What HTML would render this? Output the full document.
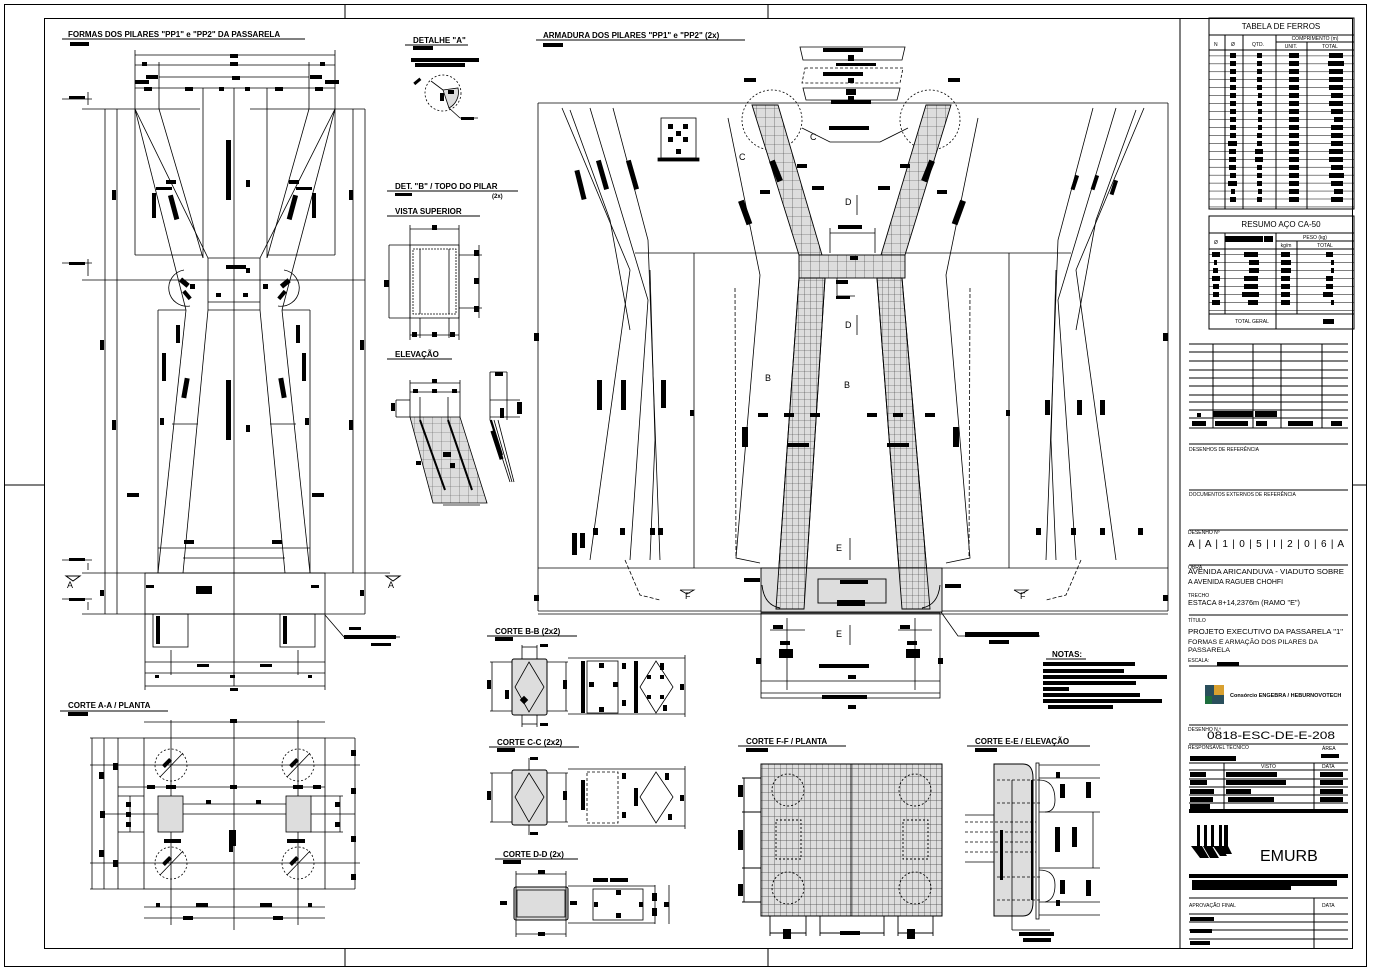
<!DOCTYPE html>
<html><head><meta charset="utf-8"><style>
html,body{margin:0;padding:0;background:#fff;}
svg{display:block;font-family:"Liberation Sans",sans-serif;}
.t{font-size:8px;font-weight:bold;}
.s{font-size:5px;}
</style></head><body>
<svg width="1378" height="974" viewBox="0 0 1378 974" xmlns="http://www.w3.org/2000/svg">
<defs>
<pattern id="grid" width="9" height="9" patternUnits="userSpaceOnUse"><path d="M0 0H9M0 0V9" stroke="#000" stroke-width="0.6" fill="none"/></pattern>
<pattern id="gridF" width="6" height="7" patternUnits="userSpaceOnUse"><path d="M0 0H6M0 0V7" stroke="#000" stroke-width="0.6" fill="none"/></pattern>
<pattern id="gridFF" width="6" height="8" patternUnits="userSpaceOnUse"><path d="M0 0H6M0 0V8" stroke="#000" stroke-width="0.7" fill="none"/></pattern>
<pattern id="rows" width="10" height="7.95" patternUnits="userSpaceOnUse"><path d="M0 0H10" stroke="#000" stroke-width="1"/></pattern>
</defs>
<rect width="1378" height="974" fill="#fff"/>
<g fill="none" stroke="#000" stroke-width="1">
<rect x="4.5" y="4.5" width="1362" height="962"/>
<rect x="44.5" y="18.5" width="1308" height="930"/>
<line x1="345" y1="4" x2="345" y2="18"/><line x1="768" y1="4" x2="768" y2="18"/>
<line x1="4" y1="485" x2="44" y2="485"/><line x1="1352" y1="485" x2="1367" y2="485"/>
<line x1="345" y1="948" x2="345" y2="967"/><line x1="768" y1="948" x2="768" y2="967"/>
<line x1="1180" y1="18" x2="1180" y2="948"/>
</g>

<!-- TABELA DE FERROS -->
<g fill="none" stroke="#000" stroke-width="1">
<rect x="1209" y="18" width="145" height="191"/>
<line x1="1209" y1="35" x2="1354" y2="35"/>
<line x1="1276" y1="42" x2="1354" y2="42"/>
<line x1="1209" y1="50" x2="1354" y2="50"/>
<line x1="1225" y1="35" x2="1225" y2="209"/><line x1="1243" y1="35" x2="1243" y2="209"/>
<line x1="1276" y1="35" x2="1276" y2="209"/><line x1="1307" y1="42" x2="1307" y2="209"/>
</g>
<rect x="1209" y="50" width="145" height="159" fill="url(#rows)"/>
<text x="1281" y="29" font-size="8" text-anchor="middle">TABELA  DE  FERROS</text>
<text x="1214" y="46" class="s">N</text><text x="1231" y="46" class="s">Ø</text><text x="1252" y="46" class="s">QTD.</text>
<text x="1315" y="40" class="s" text-anchor="middle">COMPRIMENTO (m)</text>
<text x="1291" y="48" class="s" text-anchor="middle">UNIT.</text><text x="1330" y="48" class="s" text-anchor="middle">TOTAL</text>
<g fill="#000">
<rect x="1230" y="53" width="6" height="5"/><rect x="1230" y="61" width="6" height="5"/><rect x="1230" y="69" width="6" height="5"/><rect x="1230" y="77" width="6" height="5"/><rect x="1230" y="85" width="6" height="5"/><rect x="1230" y="93" width="6" height="5"/><rect x="1230" y="101" width="6" height="5"/><rect x="1230" y="109" width="6" height="5"/><rect x="1230" y="117" width="6" height="5"/><rect x="1230" y="125" width="6" height="5"/><rect x="1230" y="133" width="6" height="5"/><rect x="1228" y="141" width="9" height="5"/><rect x="1229" y="149" width="7" height="5"/><rect x="1229" y="157" width="7" height="5"/><rect x="1229" y="165" width="7" height="5"/><rect x="1230" y="173" width="6" height="5"/><rect x="1228" y="181" width="9" height="5"/><rect x="1231" y="189" width="4" height="5"/><rect x="1230" y="197" width="6" height="5"/>
<rect x="1257" y="53" width="5" height="5"/><rect x="1257" y="61" width="5" height="5"/><rect x="1257" y="69" width="5" height="5"/><rect x="1257" y="77" width="5" height="5"/><rect x="1257" y="85" width="5" height="5"/><rect x="1258" y="93" width="4" height="5"/><rect x="1257" y="101" width="5" height="5"/><rect x="1258" y="109" width="4" height="5"/><rect x="1258" y="117" width="4" height="5"/><rect x="1258" y="125" width="4" height="5"/><rect x="1257" y="133" width="5" height="5"/><rect x="1257" y="141" width="5" height="5"/><rect x="1255" y="149" width="8" height="5"/><rect x="1255" y="157" width="8" height="5"/><rect x="1257" y="165" width="5" height="5"/><rect x="1257" y="173" width="5" height="5"/><rect x="1257" y="181" width="5" height="5"/><rect x="1258" y="189" width="4" height="5"/><rect x="1257" y="197" width="5" height="5"/>
<rect x="1289" y="53" width="10" height="5"/><rect x="1289" y="61" width="10" height="5"/><rect x="1289" y="69" width="10" height="5"/><rect x="1289" y="77" width="10" height="5"/><rect x="1289" y="85" width="10" height="5"/><rect x="1289" y="93" width="10" height="5"/><rect x="1289" y="101" width="10" height="5"/><rect x="1289" y="109" width="10" height="5"/><rect x="1289" y="117" width="10" height="5"/><rect x="1289" y="125" width="10" height="5"/><rect x="1289" y="133" width="10" height="5"/><rect x="1289" y="141" width="10" height="5"/><rect x="1289" y="149" width="10" height="5"/><rect x="1289" y="157" width="10" height="5"/><rect x="1289" y="165" width="10" height="5"/><rect x="1289" y="173" width="10" height="5"/><rect x="1289" y="181" width="10" height="5"/><rect x="1289" y="189" width="10" height="5"/><rect x="1289" y="197" width="10" height="5"/>
<rect x="1329" y="53" width="14" height="5"/><rect x="1328" y="61" width="16" height="5"/><rect x="1329" y="69" width="14" height="5"/><rect x="1329" y="77" width="14" height="5"/><rect x="1329" y="85" width="14" height="5"/><rect x="1331" y="93" width="12" height="5"/><rect x="1329" y="101" width="14" height="5"/><rect x="1331" y="109" width="12" height="5"/><rect x="1334" y="117" width="9" height="5"/><rect x="1331" y="125" width="12" height="5"/><rect x="1331" y="133" width="12" height="5"/><rect x="1331" y="141" width="12" height="5"/><rect x="1329" y="149" width="14" height="5"/><rect x="1329" y="157" width="14" height="5"/><rect x="1331" y="165" width="12" height="5"/><rect x="1329" y="173" width="15" height="5"/><rect x="1331" y="181" width="12" height="5"/><rect x="1334" y="189" width="9" height="5"/><rect x="1331" y="197" width="12" height="5"/>
</g>
<!-- RESUMO -->
<g fill="none" stroke="#000" stroke-width="1">
<rect x="1209" y="216" width="145" height="113"/>
<line x1="1209" y1="233" x2="1354" y2="233"/>
<line x1="1276" y1="241" x2="1354" y2="241"/>
<line x1="1209" y1="249" x2="1354" y2="249"/>
<line x1="1209" y1="314" x2="1354" y2="314"/>
<line x1="1225" y1="233" x2="1225" y2="314"/><line x1="1276" y1="233" x2="1276" y2="329"/><line x1="1297" y1="241" x2="1297" y2="314"/>
</g>
<rect x="1209" y="249" width="145" height="65" fill="url(#rows)"/>
<text x="1281" y="227" font-size="8" text-anchor="middle">RESUMO AÇO CA-50</text>
<text x="1214" y="244" class="s">Ø</text>
<text x="1315" y="239" class="s" text-anchor="middle">PESO (kg)</text>
<text x="1286" y="247" class="s" text-anchor="middle">kg/m</text><text x="1325" y="247" class="s" text-anchor="middle">TOTAL</text>
<text x="1252" y="323" class="s" text-anchor="middle">TOTAL GERAL</text>
<g fill="#000"><rect x="1225" y="236" width="38" height="6"/><rect x="1264" y="236" width="9" height="6"/>
<rect x="1212" y="252" width="8" height="5"/><rect x="1244" y="252" width="14" height="5"/><rect x="1281" y="252" width="9" height="5"/><rect x="1326" y="252" width="7" height="5"/>
<rect x="1214" y="260" width="3" height="5"/><rect x="1249" y="260" width="10" height="5"/><rect x="1281" y="260" width="10" height="5"/><rect x="1331" y="260" width="3" height="5"/>
<rect x="1213" y="268" width="5" height="5"/><rect x="1249" y="268" width="10" height="5"/><rect x="1281" y="268" width="10" height="5"/><rect x="1331" y="268" width="3" height="5"/>
<rect x="1212" y="276" width="8" height="5"/><rect x="1244" y="276" width="14" height="5"/><rect x="1281" y="276" width="9" height="5"/><rect x="1326" y="276" width="7" height="5"/>
<rect x="1213" y="284" width="6" height="5"/><rect x="1244" y="284" width="14" height="5"/><rect x="1281" y="284" width="9" height="5"/><rect x="1326" y="284" width="7" height="5"/>
<rect x="1213" y="292" width="6" height="5"/><rect x="1242" y="292" width="17" height="5"/><rect x="1281" y="292" width="9" height="5"/><rect x="1323" y="292" width="10" height="5"/>
<rect x="1212" y="300" width="8" height="5"/><rect x="1248" y="300" width="10" height="5"/><rect x="1281" y="300" width="9" height="5"/><rect x="1331" y="300" width="3" height="5"/>
<rect x="1323" y="319" width="11" height="5"/></g>

<!-- revision table & title block -->
<g fill="none" stroke="#000" stroke-width="1">
<line x1="1189" y1="344" x2="1348" y2="344"/><line x1="1189" y1="352" x2="1348" y2="352"/><line x1="1189" y1="361" x2="1348" y2="361"/><line x1="1189" y1="370" x2="1348" y2="370"/><line x1="1189" y1="378" x2="1348" y2="378"/><line x1="1189" y1="386" x2="1348" y2="386"/><line x1="1189" y1="395" x2="1348" y2="395"/><line x1="1189" y1="402" x2="1348" y2="402"/><line x1="1189" y1="410" x2="1348" y2="410"/><line x1="1189" y1="418" x2="1348" y2="418"/><line x1="1189" y1="428" x2="1348" y2="428"/>
<line x1="1213" y1="344" x2="1213" y2="428"/><line x1="1253" y1="344" x2="1253" y2="428"/><line x1="1281" y1="344" x2="1281" y2="428"/><line x1="1322" y1="344" x2="1322" y2="428"/>
<line x1="1189" y1="444" x2="1348" y2="444"/><line x1="1189" y1="490" x2="1348" y2="490"/><line x1="1189" y1="530" x2="1348" y2="530"/>
<line x1="1189" y1="565" x2="1348" y2="565"/><line x1="1189" y1="615" x2="1348" y2="615"/><line x1="1189" y1="666" x2="1348" y2="666"/><line x1="1189" y1="725" x2="1348" y2="725"/>
<line x1="1189" y1="744" x2="1348" y2="744"/><line x1="1189" y1="763" x2="1348" y2="763"/><line x1="1189" y1="770" x2="1348" y2="770"/><line x1="1189" y1="779" x2="1348" y2="779"/><line x1="1189" y1="787" x2="1348" y2="787"/><line x1="1189" y1="795" x2="1348" y2="795"/><line x1="1189" y1="803" x2="1348" y2="803"/>
<line x1="1224" y1="763" x2="1224" y2="811"/><line x1="1314" y1="763" x2="1314" y2="811"/>
<line x1="1189" y1="898" x2="1348" y2="898"/><line x1="1189" y1="914" x2="1348" y2="914"/><line x1="1189" y1="922" x2="1348" y2="922"/><line x1="1189" y1="930" x2="1348" y2="930"/><line x1="1189" y1="939" x2="1348" y2="939"/>
<line x1="1314" y1="898" x2="1314" y2="948"/>
</g>
<g fill="#000"><rect x="1197" y="413" width="4" height="4"/><rect x="1213" y="411" width="40" height="6"/><rect x="1255" y="411" width="22" height="6"/>
<rect x="1192" y="421" width="14" height="5"/><rect x="1215" y="421" width="33" height="5"/><rect x="1256" y="421" width="11" height="5"/><rect x="1288" y="421" width="25" height="5"/><rect x="1331" y="421" width="11" height="5"/>
<rect x="1189" y="809" width="159" height="4"/><rect x="1189" y="874" width="159" height="4"/><rect x="1192" y="880" width="145" height="6"/><rect x="1192" y="886" width="99" height="4"/>
<rect x="1190" y="756" width="46" height="5"/><rect x="1321" y="754" width="18" height="4"/>
<rect x="1190" y="772" width="16" height="5"/><rect x="1226" y="772" width="51" height="5"/><rect x="1320" y="772" width="23" height="5"/>
<rect x="1190" y="780" width="17" height="5"/><rect x="1226" y="780" width="60" height="5"/><rect x="1320" y="780" width="23" height="5"/>
<rect x="1190" y="789" width="24" height="5"/><rect x="1226" y="789" width="25" height="5"/><rect x="1320" y="789" width="23" height="5"/>
<rect x="1190" y="797" width="23" height="5"/><rect x="1228" y="797" width="46" height="5"/><rect x="1320" y="797" width="23" height="5"/>
<rect x="1190" y="804" width="20" height="5"/>
<rect x="1190" y="917" width="24" height="4"/><rect x="1190" y="929" width="22" height="4"/><rect x="1190" y="941" width="20" height="4"/>
<rect x="1217" y="662" width="22" height="4"/></g>
<g font-size="5" fill="#000">
<text x="1189" y="451">DESENHOS  DE  REFERÊNCIA</text>
<text x="1189" y="496">DOCUMENTOS  EXTERNOS  DE  REFERÊNCIA</text>
<text x="1188" y="534">DESENHO  Nº</text>
<text x="1188" y="569">OBRA</text>
<text x="1188" y="597">TRECHO</text>
<text x="1188" y="622">TÍTULO</text>
<text x="1188" y="662">ESCALA:</text>
<text x="1188" y="731">DESENHO  N.º</text>
<text x="1188" y="749">RESPONSÁVEL  TÉCNICO</text>
<text x="1322" y="750">ÁREA</text>
<text x="1261" y="768">VISTO</text><text x="1322" y="768">DATA</text>
<text x="1189" y="907">APROVAÇÃO  FINAL</text><text x="1322" y="907">DATA</text>
</g>
<g fill="#000">
<text x="1188" y="547" font-size="10" textLength="156" lengthAdjust="spacing">A | A | 1 | 0 | 5 | I | 2 | 0 | 6 | A</text>
<text x="1188" y="574" font-size="7" textLength="156" lengthAdjust="spacingAndGlyphs">AVENIDA ARICANDUVA - VIADUTO SOBRE</text>
<text x="1188" y="584" font-size="7" textLength="95" lengthAdjust="spacingAndGlyphs">A AVENIDA RAGUEB CHOHFI</text>
<text x="1188" y="605" font-size="7" textLength="112" lengthAdjust="spacingAndGlyphs">ESTACA 8+14,2376m (RAMO "E")</text>
<text x="1188" y="634" font-size="7" textLength="155" lengthAdjust="spacingAndGlyphs">PROJETO EXECUTIVO DA PASSARELA "1"</text>
<text x="1188" y="644" font-size="6" textLength="130" lengthAdjust="spacingAndGlyphs">FORMAS E ARMAÇÃO DOS PILARES DA</text>
<text x="1188" y="652" font-size="6" textLength="42" lengthAdjust="spacingAndGlyphs">PASSARELA</text>
<text x="1207" y="739" font-size="11" textLength="128" lengthAdjust="spacingAndGlyphs">0818-ESC-DE-E-208</text>
<text x="1260" y="861" font-size="16">EMURB</text>
</g>
<g><rect x="1205" y="685" width="19" height="19" fill="#2a4f5c"/><rect x="1214" y="685" width="10" height="10" fill="#d8a030"/><rect x="1205" y="696" width="7" height="8" fill="#1d6d3e"/>
<text x="1230" y="697" font-size="5.5" font-weight="bold">Consórcio ENGEBRA / HEBURNOVOTECH</text></g>
<g fill="#000"><rect x="1197" y="825" width="3" height="22"/><rect x="1204" y="825" width="3" height="22"/><rect x="1211" y="825" width="3" height="22"/><rect x="1219" y="825" width="3" height="22"/><rect x="1224" y="825" width="4" height="22"/>
<polygon points="1191,846 1202,846 1209,858 1200,858"/><polygon points="1203,846 1212,846 1219,858 1210,858"/><polygon points="1213,846 1221,846 1227,856 1220,856"/><polygon points="1221,846 1228,846 1232,854 1225,854"/></g>

<!-- ============ FORMAS (left) ============ -->
<text x="68" y="37" class="t">FORMAS DOS PILARES "PP1" e "PP2" DA PASSARELA</text>
<line x1="62" y1="39" x2="305" y2="39" stroke="#000"/><rect x="70" y="42" width="19" height="4"/>
<g fill="none" stroke="#000" stroke-width="0.8">
<line x1="135" y1="55" x2="335" y2="55"/><line x1="135" y1="65" x2="335" y2="65"/><line x1="159" y1="77" x2="309" y2="77"/><line x1="135" y1="88" x2="335" y2="88"/>
<line x1="135" y1="50" x2="135" y2="109"/><line x1="335" y1="50" x2="335" y2="109"/><line x1="159" y1="62" x2="159" y2="109"/><line x1="309" y1="62" x2="309" y2="109"/>
<line x1="82" y1="109" x2="200" y2="109"/><line x1="250" y1="109" x2="365" y2="109"/>
<line x1="82" y1="280" x2="365" y2="280"/>
<line x1="82" y1="573" x2="390" y2="573"/><line x1="82" y1="614" x2="365" y2="614"/>
<line x1="105" y1="109" x2="105" y2="614"/><line x1="365" y1="109" x2="365" y2="614"/><line x1="117" y1="109" x2="117" y2="614"/><line x1="353" y1="109" x2="353" y2="573"/>
<line x1="234" y1="88" x2="234" y2="686"/>
<line x1="203" y1="88" x2="203" y2="258"/><line x1="267" y1="88" x2="267" y2="258"/>
<polyline points="135,109 208,258 260,258 335,109"/>
<polyline points="159,109 203,258"/><polyline points="309,109 267,258"/>
<polyline points="135,109 186,310"/><polyline points="335,109 282,310"/>
<line x1="135" y1="109" x2="135" y2="255"/><line x1="335" y1="109" x2="335" y2="255"/><line x1="135" y1="255" x2="203" y2="255"/><line x1="267" y1="255" x2="335" y2="255"/>
<line x1="208" y1="258" x2="208" y2="310"/><line x1="260" y1="258" x2="260" y2="310"/><line x1="208" y1="310" x2="260" y2="310"/><line x1="208" y1="302" x2="260" y2="302"/>
<path d="M184 270 A18 18 0 0 0 190 306" /><path d="M284 270 A18 18 0 0 1 278 306"/>
<line x1="186" y1="310" x2="158" y2="573"/><line x1="208" y1="310" x2="183" y2="573"/>
<line x1="260" y1="310" x2="285" y2="573"/><line x1="282" y1="310" x2="310" y2="573"/>
<line x1="158" y1="310" x2="158" y2="573"/><line x1="310" y1="310" x2="310" y2="573"/><line x1="158" y1="310" x2="186" y2="310"/><line x1="282" y1="310" x2="310" y2="310"/>
<line x1="158" y1="548" x2="310" y2="548"/><line x1="183" y1="558" x2="285" y2="558"/>
<line x1="172" y1="424" x2="198" y2="424"/><line x1="270" y1="424" x2="296" y2="424"/>
<rect x="145" y="573" width="180" height="41"/>
<rect x="153" y="614" width="35" height="33"/><rect x="280" y="614" width="35" height="33"/>
<line x1="145" y1="662" x2="325" y2="662"/><line x1="145" y1="673" x2="325" y2="673"/><line x1="145" y1="686" x2="325" y2="686"/>
<line x1="145" y1="614" x2="145" y2="690"/><line x1="325" y1="614" x2="325" y2="690"/><line x1="171" y1="650" x2="171" y2="675"/><line x1="298" y1="650" x2="298" y2="675"/>
<polyline points="325,615 344,637 400,637"/>
<line x1="62" y1="99" x2="92" y2="99"/><line x1="62" y1="263" x2="92" y2="263"/><line x1="62" y1="560" x2="92" y2="560"/><line x1="62" y1="599" x2="92" y2="599"/>
<line x1="88" y1="92" x2="88" y2="105"/><line x1="88" y1="259" x2="88" y2="276"/><line x1="88" y1="563" x2="88" y2="570"/><line x1="88" y1="602" x2="88" y2="610"/>
</g>
<g fill="#000">
<rect x="226" y="140" width="5" height="60"/><rect x="226" y="380" width="5" height="60"/>
<rect x="226" y="265" width="20" height="4"/><rect x="232" y="76" width="8" height="4"/><rect x="146" y="75" width="12" height="4"/><rect x="310" y="75" width="12" height="4"/>
<rect x="135" y="80" width="14" height="4"/><rect x="325" y="80" width="14" height="4"/><rect x="185" y="87" width="8" height="4"/><rect x="275" y="87" width="8" height="4"/><rect x="219" y="87" width="5" height="4"/><rect x="245" y="87" width="5" height="4"/><rect x="144" y="87" width="8" height="4"/><rect x="315" y="87" width="8" height="4"/>
<rect x="230" y="54" width="8" height="4"/><rect x="142" y="62" width="5" height="4"/><rect x="320" y="62" width="5" height="4"/><rect x="230" y="62" width="8" height="4"/>
<rect x="112" y="190" width="4" height="10"/><rect x="349" y="190" width="4" height="10"/><rect x="100" y="340" width="4" height="10"/><rect x="360" y="340" width="4" height="10"/><rect x="112" y="420" width="4" height="10"/><rect x="349" y="420" width="4" height="10"/><rect x="100" y="590" width="4" height="6"/><rect x="360" y="590" width="4" height="6"/>
<rect x="246" y="180" width="4" height="7"/><rect x="246" y="425" width="4" height="7"/><rect x="246" y="268" width="4" height="5"/>
<rect x="69" y="96" width="16" height="3"/><rect x="69" y="262" width="16" height="3"/><rect x="69" y="558" width="16" height="3"/><rect x="69" y="598" width="16" height="3"/>
<rect x="196" y="586" width="16" height="8"/><rect x="146" y="585" width="8" height="3"/><rect x="311" y="585" width="8" height="3"/>
<rect x="197" y="664" width="12" height="3"/><rect x="260" y="664" width="12" height="3"/><rect x="155" y="675" width="4" height="3"/><rect x="230" y="675" width="5" height="3"/><rect x="308" y="675" width="4" height="3"/><rect x="230" y="688" width="8" height="3"/>
<rect x="156" y="616" width="4" height="28"/><rect x="283" y="616" width="4" height="28"/>
<rect x="344" y="635" width="52" height="4"/><rect x="371" y="643" width="20" height="3"/><rect x="349" y="627" width="12" height="3"/>
<rect x="152" y="193" width="4" height="25"/><rect x="176" y="325" width="4" height="18"/><rect x="296" y="325" width="4" height="18"/><rect x="312" y="193" width="4" height="25"/>
<rect x="162" y="353" width="4" height="28"/><rect x="302" y="353" width="4" height="28"/>
<rect x="127" y="493" width="12" height="4"/><rect x="312" y="493" width="12" height="4"/><rect x="184" y="540" width="10" height="4"/><rect x="272" y="540" width="10" height="4"/>
<rect x="166" y="180" width="10" height="4"/><rect x="289" y="180" width="10" height="4"/><rect x="156" y="187" width="16" height="3"/><rect x="296" y="187" width="16" height="3"/><rect x="171" y="195" width="5" height="25" transform="rotate(-15 173 207)"/><rect x="290" y="195" width="5" height="25" transform="rotate(15 293 207)"/>
<rect x="182" y="278" width="5" height="10" transform="rotate(-50 184 283)"/><rect x="185" y="290" width="4" height="10" transform="rotate(-40 187 295)"/><rect x="283" y="278" width="5" height="10" transform="rotate(50 285 283)"/><rect x="280" y="290" width="4" height="10" transform="rotate(40 282 295)"/>
<rect x="190" y="284" width="5" height="5"/><rect x="263" y="284" width="5" height="5"/><rect x="216" y="293" width="5" height="4"/><rect x="243" y="293" width="5" height="4"/>
<rect x="183" y="378" width="5" height="20" transform="rotate(10 185 388)"/><rect x="280" y="378" width="5" height="20" transform="rotate(-10 282 388)"/>
<rect x="160" y="418" width="4" height="7"/><rect x="305" y="418" width="4" height="7"/>
</g>
<text x="67" y="588" font-size="9">A</text><text x="388" y="588" font-size="9">A</text>
<polygon points="66,576 80,576 73,581" fill="#fff" stroke="#000"/><polygon points="386,576 400,576 393,581" fill="#fff" stroke="#000"/>

<!-- ============ CORTE A-A ============ -->
<text x="68" y="708" class="t">CORTE A-A / PLANTA</text><line x1="60" y1="711" x2="168" y2="711" stroke="#000"/><rect x="68" y="712" width="20" height="4"/>
<g fill="none" stroke="#000" stroke-width="0.8">
<rect x="144" y="738" width="181" height="151"/>
<line x1="144" y1="722" x2="325" y2="722"/><line x1="144" y1="907" x2="325" y2="907"/><line x1="144" y1="918" x2="325" y2="918"/>
<line x1="90" y1="765" x2="360" y2="765"/><line x1="118" y1="787" x2="325" y2="787"/><line x1="100" y1="814" x2="355" y2="814"/><line x1="90" y1="863" x2="360" y2="863"/>
<line x1="171" y1="720" x2="171" y2="925"/><line x1="234" y1="720" x2="234" y2="930"/><line x1="298" y1="720" x2="298" y2="925"/>
<line x1="90" y1="738" x2="144" y2="738"/><line x1="90" y1="889" x2="144" y2="889"/><line x1="92" y1="738" x2="92" y2="889"/><line x1="104" y1="738" x2="104" y2="889"/><line x1="118" y1="738" x2="118" y2="889"/>
<line x1="118" y1="796" x2="144" y2="796"/><line x1="118" y1="832" x2="144" y2="832"/><line x1="130" y1="796" x2="130" y2="832"/>
<line x1="325" y1="738" x2="355" y2="738"/><line x1="325" y1="889" x2="355" y2="889"/><line x1="355" y1="738" x2="355" y2="889"/>
<line x1="310" y1="796" x2="343" y2="796"/><line x1="310" y1="832" x2="343" y2="832"/><line x1="340" y1="796" x2="340" y2="832"/>
<line x1="183" y1="804" x2="286" y2="804"/>
<g stroke-dasharray="2,2"><circle cx="171" cy="765" r="16"/><circle cx="298" cy="765" r="16"/><circle cx="171" cy="863" r="16"/><circle cx="298" cy="863" r="16"/></g>
<line x1="160" y1="777" x2="183" y2="753"/><line x1="287" y1="777" x2="310" y2="753"/><line x1="160" y1="875" x2="183" y2="851"/><line x1="287" y1="875" x2="310" y2="851"/>
</g>
<rect x="158" y="796" width="25" height="36" fill="#ddd" stroke="#000" stroke-width="0.8"/><rect x="286" y="796" width="25" height="36" fill="#ddd" stroke="#000" stroke-width="0.8"/>
<g fill="#000"><rect x="230" y="719" width="7" height="4"/><rect x="147" y="785" width="8" height="4"/><rect x="166" y="785" width="10" height="4"/><rect x="230" y="785" width="7" height="4"/><rect x="293" y="785" width="10" height="4"/><rect x="313" y="785" width="8" height="4"/>
<rect x="164" y="839" width="9" height="4"/><rect x="172" y="839" width="9" height="4"/><rect x="287" y="839" width="9" height="4"/><rect x="296" y="839" width="9" height="4"/>
<rect x="229" y="830" width="4" height="22"/><rect x="233" y="830" width="3" height="16"/><rect x="206" y="800" width="5" height="4"/><rect x="256" y="800" width="5" height="4"/>
<rect x="100" y="811" width="5" height="7"/><rect x="99" y="772" width="5" height="7"/><rect x="99" y="850" width="5" height="7"/><rect x="113" y="763" width="5" height="7"/><rect x="113" y="860" width="5" height="7"/><rect x="126" y="812" width="5" height="5"/><rect x="126" y="802" width="5" height="5"/><rect x="126" y="822" width="5" height="5"/>
<rect x="351" y="750" width="5" height="6"/><rect x="351" y="788" width="5" height="6"/><rect x="351" y="836" width="5" height="6"/><rect x="351" y="874" width="5" height="6"/><rect x="335" y="802" width="5" height="5"/><rect x="335" y="822" width="5" height="5"/>
<rect x="156" y="903" width="4" height="4"/><rect x="196" y="903" width="12" height="4"/><rect x="260" y="903" width="12" height="4"/><rect x="308" y="903" width="4" height="4"/><rect x="183" y="916" width="10" height="4"/><rect x="273" y="916" width="10" height="4"/>
<rect x="162" y="761" width="10" height="4" transform="rotate(-45 167 763)"/><rect x="289" y="761" width="10" height="4" transform="rotate(-45 294 763)"/><rect x="162" y="859" width="10" height="4" transform="rotate(-45 167 861)"/><rect x="289" y="859" width="10" height="4" transform="rotate(-45 294 861)"/></g>

<!-- ============ DETALHE A ============ -->
<text x="413" y="43" class="t">DETALHE "A"</text><line x1="405" y1="45" x2="468" y2="45" stroke="#000"/>
<g fill="#000"><rect x="413" y="46" width="20" height="4"/><rect x="411" y="58" width="68" height="4"/><rect x="415" y="63" width="50" height="4"/><rect x="461" y="117" width="13" height="3"/><rect x="413" y="80" width="8" height="3" transform="rotate(-40 417 81)"/></g>
<g fill="none" stroke="#000" stroke-width="0.8"><path d="M443 90 L458 88 A18 18 0 0 1 449 108 Z" fill="#ddd"/><circle cx="443" cy="93" r="18" stroke-dasharray="2,2"/><line x1="431" y1="81" x2="443" y2="90"/><line x1="449" y1="108" x2="460" y2="118"/><line x1="460" y1="118" x2="478" y2="118"/></g>
<rect x="440" y="93" width="4" height="8" fill="#000"/><rect x="448" y="90" width="6" height="4" fill="#000"/>

<!-- ============ DET B ============ -->
<text x="395" y="189" class="t">DET. "B" / TOPO DO PILAR</text><line x1="387" y1="191" x2="518" y2="191" stroke="#000"/><rect x="395" y="193" width="17" height="3"/><text x="492" y="198" font-size="6" font-weight="bold">(2x)</text>
<text x="395" y="214" class="t">VISTA SUPERIOR</text><line x1="387" y1="216" x2="480" y2="216" stroke="#000"/>
<g fill="none" stroke="#000" stroke-width="0.8">
<rect x="410" y="245" width="49" height="73"/><rect x="413" y="249" width="43" height="65" stroke-dasharray="2,1"/>
<line x1="420" y1="249" x2="420" y2="314"/><line x1="449" y1="249" x2="449" y2="314"/>
<line x1="410" y1="229" x2="459" y2="229"/><line x1="410" y1="335" x2="459" y2="335"/><line x1="389" y1="245" x2="389" y2="318"/><line x1="479" y1="245" x2="479" y2="318"/>
<line x1="389" y1="245" x2="410" y2="245"/><line x1="389" y1="318" x2="410" y2="318"/><line x1="459" y1="255" x2="482" y2="255"/><line x1="459" y1="308" x2="482" y2="308"/>
<line x1="410" y1="225" x2="410" y2="340"/><line x1="459" y1="225" x2="459" y2="340"/><line x1="420" y1="318" x2="420" y2="338"/><line x1="449" y1="318" x2="449" y2="338"/>
</g>
<g fill="#000"><rect x="432" y="225" width="5" height="5"/><rect x="384" y="280" width="5" height="7"/><rect x="474" y="250" width="5" height="6"/><rect x="474" y="278" width="5" height="6"/><rect x="474" y="306" width="5" height="6"/><rect x="412" y="332" width="5" height="5"/><rect x="432" y="332" width="5" height="5"/><rect x="450" y="332" width="5" height="5"/></g>
<text x="395" y="357" class="t">ELEVAÇÃO</text><line x1="387" y1="359" x2="452" y2="359" stroke="#000"/>
<polygon points="410,417 460,417 487,503 433,503" fill="#ddd" stroke="#000" stroke-width="0.8"/>
<polygon points="410,417 460,417 487,503 433,503" fill="url(#grid)" opacity="0.6"/>
<g fill="none" stroke="#000" stroke-width="0.8">
<line x1="410" y1="383" x2="460" y2="383"/><line x1="410" y1="392" x2="460" y2="392"/><line x1="410" y1="380" x2="410" y2="417"/><line x1="460" y1="380" x2="460" y2="417"/>
<line x1="396" y1="400" x2="410" y2="400"/><line x1="396" y1="417" x2="410" y2="417"/><line x1="396" y1="400" x2="396" y2="417"/>
<line x1="420" y1="397" x2="420" y2="420"/><line x1="448" y1="397" x2="448" y2="420"/>
<line x1="490" y1="372" x2="507" y2="372"/><line x1="490" y1="372" x2="490" y2="420"/><line x1="507" y1="372" x2="507" y2="420"/><line x1="490" y1="400" x2="520" y2="400"/><line x1="490" y1="417" x2="520" y2="417"/>
<line x1="490" y1="420" x2="510" y2="482"/><line x1="494" y1="420" x2="512" y2="482"/><line x1="498" y1="420" x2="514" y2="482"/>
<line x1="443" y1="505" x2="480" y2="505"/>
</g>
<g stroke="#000" stroke-width="2"><line x1="420" y1="420" x2="445" y2="490"/><line x1="448" y1="420" x2="472" y2="490"/><line x1="491" y1="420" x2="502" y2="455"/></g>
<g fill="#000"><rect x="432" y="379" width="5" height="4"/><rect x="413" y="389" width="5" height="4"/><rect x="432" y="389" width="5" height="4"/><rect x="452" y="389" width="5" height="4"/><rect x="391" y="403" width="4" height="8"/><rect x="443" y="452" width="8" height="5"/><rect x="450" y="463" width="5" height="5"/><rect x="416" y="461" width="5" height="4"/><rect x="495" y="372" width="8" height="4"/><rect x="517" y="402" width="5" height="12"/><rect x="500" y="408" width="4" height="10"/><rect x="495" y="430" width="4" height="30" transform="rotate(-18 497 445)"/></g>

<!-- ============ ARMADURA (centre) ============ -->
<text x="543" y="38" class="t">ARMADURA DOS PILARES "PP1" e "PP2" (2x)</text><line x1="536" y1="40" x2="745" y2="40" stroke="#000"/><rect x="543" y="43" width="20" height="4"/>
<g fill="none" stroke="#000" stroke-width="0.8">
<line x1="538" y1="103" x2="1168" y2="103"/><line x1="538" y1="103" x2="538" y2="611"/><line x1="1168" y1="103" x2="1168" y2="611"/>
<line x1="538" y1="568" x2="1168" y2="568"/><line x1="538" y1="611" x2="1168" y2="611"/><line x1="538" y1="614" x2="1168" y2="614"/>
<line x1="635" y1="253" x2="800" y2="253"/><line x1="905" y1="253" x2="1071" y2="253"/>
<line x1="694" y1="253" x2="694" y2="568"/><line x1="1009" y1="253" x2="1009" y2="568"/>
<polyline points="562,108 630,270 590,560"/><polyline points="590,108 648,300 630,560"/><polyline points="613,108 648,240 660,560"/>
<polyline points="570,110 610,220 630,330"/><polyline points="650,270 655,440 650,560"/>
<polyline points="1144,108 1076,270 1116,560"/><polyline points="1116,108 1058,300 1076,560"/><polyline points="1093,108 1058,240 1046,560"/>
<polyline points="1136,110 1096,220 1076,330"/><polyline points="1056,270 1051,440 1056,560"/>
<g stroke-dasharray="4,2"><polyline points="735,288 736,558"/><polyline points="970,288 969,558"/><polyline points="625,560 640,595 660,600"/><polyline points="1081,560 1066,595 1046,600"/></g>
<polyline points="728,118 760,275 736,558 760,563"/><polyline points="978,118 946,275 970,558 946,563"/>
<circle cx="772" cy="120" r="30" stroke-dasharray="2,2"/><circle cx="930" cy="120" r="30" stroke-dasharray="2,2"/>
<polyline points="802,128 830,142 880,142 908,128"/>
<polygon points="800,47 905,47 902,60 803,60"/><polygon points="805,68 903,68 900,83 802,83" stroke-dasharray="3,2"/><polygon points="803,88 900,88 897,100 806,100"/>
<rect x="661" y="118" width="35" height="40"/><rect x="658" y="158" width="41" height="3" fill="#000"/>
<line x1="830" y1="233" x2="875" y2="233"/><line x1="830" y1="228" x2="830" y2="253"/><line x1="875" y1="228" x2="875" y2="253"/>
<line x1="837" y1="278" x2="837" y2="296"/><line x1="837" y1="296" x2="855" y2="296"/>
<line x1="787" y1="618" x2="787" y2="690"/><line x1="915" y1="618" x2="915" y2="690"/>
<rect x="761" y="613" width="179" height="85"/>
<line x1="761" y1="681" x2="940" y2="681"/><line x1="761" y1="693" x2="940" y2="693"/>
<line x1="815" y1="579" x2="888" y2="579"/><line x1="815" y1="579" x2="815" y2="604"/><line x1="888" y1="579" x2="888" y2="604"/>
<line x1="770" y1="630" x2="805" y2="630"/><line x1="898" y1="630" x2="932" y2="630"/>
<polyline points="941,612 958,636 1040,636"/>
</g>
<g stroke="#000" stroke-width="0.9">
<polygon points="752,105 778,105 822,255 799,255" fill="#ddd"/>
<polygon points="926,105 951,105 905,255 881,255" fill="#ddd"/>
<rect x="799" y="255" width="106" height="23" fill="#ddd"/>
<polygon points="799,278 825,278 804,609 776,609" fill="#ddd"/>
<polygon points="877,278 902,278 930,609 902,609" fill="#ddd"/>
<rect x="761" y="568" width="181" height="44" fill="#ddd"/>
</g>
<g stroke="none" opacity="0.75">
<polygon points="752,105 778,105 822,255 799,255" fill="url(#grid)"/><polygon points="926,105 951,105 905,255 881,255" fill="url(#grid)"/><rect x="799" y="255" width="106" height="23" fill="url(#grid)"/>
<polygon points="799,278 825,278 804,609 776,609" fill="url(#gridF)"/><polygon points="877,278 902,278 930,609 902,609" fill="url(#gridF)"/>
</g>
<g fill="none" stroke="#000" stroke-width="0.9">
<polygon points="799,278 825,278 804,609 776,609"/><polygon points="877,278 902,278 930,609 902,609"/>
<rect x="818" y="579" width="68" height="24"/>
<path d="M762 585 Q764 605 780 608"/><path d="M940 585 Q938 605 922 608"/>
</g>
<g fill="#000">
<rect x="744" y="78" width="12" height="4"/><rect x="948" y="78" width="12" height="4"/>
<rect x="823" y="48" width="40" height="4"/><rect x="848" y="55" width="6" height="6"/><rect x="823" y="72" width="40" height="4"/><rect x="848" y="78" width="6" height="5"/><rect x="846" y="89" width="10" height="6"/><rect x="831" y="100" width="40" height="4"/><rect x="848" y="96" width="6" height="4"/><rect x="829" y="126" width="40" height="4"/><rect x="836" y="63" width="40" height="3"/>
<rect x="668" y="124" width="5" height="5"/><rect x="676" y="131" width="5" height="5"/><rect x="683" y="124" width="5" height="5"/><rect x="683" y="137" width="5" height="5"/><rect x="668" y="137" width="5" height="5"/><rect x="676" y="149" width="5" height="5"/>
<rect x="773" y="160" width="6" height="22" transform="rotate(-22 776 171)"/><rect x="925" y="160" width="6" height="22" transform="rotate(22 928 171)"/>
<rect x="797" y="164" width="10" height="4"/><rect x="900" y="164" width="10" height="4"/><rect x="760" y="190" width="10" height="4"/><rect x="937" y="190" width="10" height="4"/><rect x="812" y="186" width="12" height="4"/><rect x="878" y="186" width="12" height="4"/>
<rect x="838" y="225" width="24" height="4"/><rect x="850" y="256" width="8" height="4"/><rect x="836" y="280" width="12" height="4"/><rect x="836" y="296" width="14" height="3"/>
<rect x="578" y="170" width="5" height="30" transform="rotate(-14 580 185)"/><rect x="600" y="160" width="5" height="30" transform="rotate(-16 602 175)"/><rect x="630" y="160" width="5" height="30" transform="rotate(-16 632 175)"/>
<rect x="742" y="200" width="6" height="25" transform="rotate(-20 745 212)"/><rect x="956" y="200" width="6" height="25" transform="rotate(20 959 212)"/>
<rect x="1073" y="175" width="4" height="15" transform="rotate(18 1075 182)"/><rect x="1093" y="175" width="4" height="15" transform="rotate(18 1095 182)"/><rect x="1112" y="180" width="4" height="15" transform="rotate(18 1114 187)"/>
<rect x="597" y="380" width="5" height="30"/><rect x="621" y="380" width="5" height="30"/><rect x="661" y="380" width="5" height="28"/><rect x="690" y="410" width="4" height="6"/><rect x="534" y="333" width="5" height="8"/><rect x="1163" y="333" width="5" height="8"/>
<rect x="742" y="427" width="6" height="20"/><rect x="953" y="427" width="6" height="20"/>
<rect x="1045" y="400" width="5" height="15"/><rect x="1077" y="400" width="5" height="15"/><rect x="1100" y="400" width="5" height="15"/>
<rect x="1006" y="410" width="4" height="6"/>
<rect x="572" y="533" width="5" height="22"/><rect x="580" y="533" width="5" height="15"/><rect x="593" y="528" width="5" height="7"/><rect x="620" y="528" width="5" height="7"/><rect x="650" y="528" width="5" height="7"/><rect x="658" y="528" width="5" height="7"/>
<rect x="1036" y="528" width="5" height="7"/><rect x="1071" y="528" width="5" height="7"/><rect x="1100" y="528" width="5" height="7"/><rect x="1138" y="528" width="5" height="7"/>
<rect x="534" y="595" width="5" height="6"/><rect x="1163" y="595" width="5" height="6"/>
<rect x="744" y="578" width="16" height="4"/><rect x="945" y="584" width="16" height="4"/><rect x="840" y="580" width="28" height="4"/><rect x="837" y="600" width="28" height="6"/>
<rect x="773" y="625" width="10" height="4"/><rect x="900" y="625" width="10" height="4"/><rect x="780" y="641" width="10" height="4"/><rect x="907" y="641" width="10" height="4"/>
<rect x="779" y="649" width="14" height="9"/><rect x="906" y="649" width="14" height="9"/><rect x="819" y="664" width="50" height="4"/><rect x="848" y="675" width="8" height="4"/>
<rect x="822" y="695" width="45" height="4"/><rect x="848" y="705" width="8" height="4"/><rect x="756" y="658" width="5" height="6"/><rect x="938" y="658" width="5" height="6"/>
<rect x="965" y="632" width="74" height="5"/><rect x="989" y="640" width="20" height="4"/>
<rect x="758" y="413" width="10" height="4"/><rect x="784" y="413" width="10" height="4"/><rect x="810" y="413" width="10" height="4"/><rect x="867" y="413" width="10" height="4"/><rect x="925" y="413" width="10" height="4"/><rect x="893" y="413" width="10" height="4"/>
<rect x="787" y="443" width="22" height="4"/><rect x="887" y="443" width="22" height="4"/>
</g>
<g font-size="9" fill="#000"><text x="845" y="205">D</text><text x="845" y="328">D</text><text x="836" y="551">E</text><text x="836" y="637">E</text><text x="810" y="140">C</text><text x="739" y="160">C</text><text x="765" y="381">B</text><text x="844" y="388">B</text>
<text x="685" y="599">F</text><text x="1020" y="599">F</text></g>
<g fill="none" stroke="#000" stroke-width="0.8"><line x1="857" y1="195" x2="857" y2="215"/><line x1="857" y1="315" x2="857" y2="335"/><line x1="850" y1="538" x2="850" y2="560"/><line x1="850" y1="625" x2="850" y2="645"/>
<polyline points="680,590 694,590 687,594 680,590"/><polyline points="1014,590 1028,590 1021,594 1014,590"/></g>

<!-- NOTAS -->
<text x="1052" y="657" class="t">NOTAS:</text><line x1="1046" y1="659" x2="1086" y2="659" stroke="#000"/>
<g fill="#000"><rect x="1043" y="662" width="92" height="4"/><rect x="1043" y="669" width="81" height="4"/><rect x="1043" y="675" width="124" height="4"/><rect x="1043" y="681" width="93" height="4"/><rect x="1043" y="687" width="26" height="4"/><rect x="1043" y="693" width="97" height="4"/><rect x="1043" y="699" width="119" height="4"/><rect x="1048" y="705" width="65" height="4"/></g>

<!-- CORTE B-B -->
<text x="495" y="634" class="t">CORTE B-B (2x2)</text><line x1="487" y1="636" x2="577" y2="636" stroke="#000"/><rect x="495" y="637" width="18" height="4"/>
<rect x="512" y="659" width="35" height="56" fill="#ddd" stroke="#000" rx="2"/>
<g fill="none" stroke="#000" stroke-width="0.8">
<polygon points="529,662 544,687 529,712 515,687"/>
<line x1="490" y1="662" x2="512" y2="662"/><line x1="490" y1="711" x2="512" y2="711"/><line x1="492" y1="662" x2="492" y2="711"/>
<line x1="547" y1="662" x2="568" y2="662"/><line x1="547" y1="711" x2="568" y2="711"/><line x1="566" y1="662" x2="566" y2="711"/>
<line x1="522" y1="645" x2="522" y2="659"/><line x1="537" y1="645" x2="537" y2="659"/><line x1="522" y1="647" x2="537" y2="647"/><line x1="522" y1="715" x2="522" y2="727"/><line x1="537" y1="715" x2="537" y2="727"/><line x1="522" y1="724" x2="537" y2="724"/>
<rect x="587" y="661" width="31" height="52"/>
<polygon points="656,661 673,687 656,713 640,687"/>
<line x1="568" y1="658" x2="685" y2="658"/><line x1="568" y1="714" x2="685" y2="714"/><line x1="685" y1="655" x2="685" y2="717"/>
</g>
<g fill="#000"><rect x="540" y="644" width="8" height="3"/><rect x="540" y="723" width="8" height="3"/><rect x="487" y="680" width="4" height="9"/><rect x="505" y="690" width="4" height="9"/><rect x="563" y="680" width="4" height="9"/><rect x="521" y="697" width="6" height="6" transform="rotate(45 524 700)"/>
<rect x="581" y="661" width="4" height="52"/><rect x="599" y="663" width="5" height="5"/><rect x="589" y="682" width="5" height="5"/><rect x="613" y="682" width="5" height="5"/><rect x="599" y="707" width="5" height="5"/><rect x="622" y="663" width="4" height="6"/><rect x="622" y="700" width="4" height="6"/>
<rect x="634" y="661" width="4" height="52"/><rect x="660" y="663" width="4" height="7"/><rect x="680" y="684" width="4" height="6"/><rect x="663" y="705" width="4" height="6"/><rect x="647" y="675" width="4" height="4"/><rect x="660" y="675" width="4" height="4"/><rect x="647" y="695" width="4" height="4"/><rect x="660" y="695" width="4" height="4"/></g>

<!-- CORTE C-C -->
<text x="497" y="745" class="t">CORTE C-C (2x2)</text><line x1="489" y1="747" x2="579" y2="747" stroke="#000"/><rect x="497" y="748" width="18" height="4"/>
<rect x="512" y="770" width="35" height="55" fill="#ddd" stroke="#000" rx="2"/>
<g fill="none" stroke="#000" stroke-width="0.8">
<polygon points="529,773 544,797 529,822 515,797"/>
<line x1="490" y1="773" x2="512" y2="773"/><line x1="490" y1="822" x2="512" y2="822"/><line x1="492" y1="773" x2="492" y2="822"/>
<line x1="547" y1="773" x2="568" y2="773"/><line x1="547" y1="822" x2="568" y2="822"/><line x1="566" y1="773" x2="566" y2="822"/>
<rect x="587" y="772" width="31" height="51" stroke-dasharray="3,2"/>
<polygon points="656,772 673,797 656,823 640,797"/>
<line x1="568" y1="769" x2="685" y2="769"/><line x1="568" y1="826" x2="685" y2="826"/><line x1="685" y1="766" x2="685" y2="829"/>
<line x1="529" y1="758" x2="529" y2="770"/><line x1="529" y1="825" x2="529" y2="835"/>
</g>
<g fill="#000"><rect x="530" y="757" width="8" height="3"/><rect x="530" y="832" width="8" height="3"/><rect x="487" y="791" width="4" height="9"/><rect x="563" y="791" width="4" height="9"/><rect x="581" y="780" width="4" height="30"/><rect x="622" y="773" width="4" height="6"/><rect x="622" y="812" width="4" height="6"/><rect x="634" y="788" width="4" height="18"/><rect x="665" y="773" width="4" height="7"/><rect x="680" y="795" width="4" height="6"/><rect x="668" y="814" width="4" height="6"/></g>

<!-- CORTE D-D -->
<text x="503" y="857" class="t">CORTE D-D (2x)</text><line x1="495" y1="859" x2="578" y2="859" stroke="#000"/><rect x="503" y="860" width="18" height="4"/>
<rect x="514" y="887" width="54" height="33" fill="#ddd" stroke="#000" rx="2"/>
<g fill="none" stroke="#000" stroke-width="0.8">
<rect x="517" y="890" width="48" height="27"/>
<line x1="516" y1="874" x2="566" y2="874"/><line x1="516" y1="934" x2="566" y2="934"/><line x1="516" y1="871" x2="516" y2="937"/><line x1="566" y1="871" x2="566" y2="937"/>
<rect x="593" y="889" width="50" height="31"/><line x1="568" y1="886" x2="655" y2="886"/><line x1="568" y1="923" x2="655" y2="923"/><line x1="669" y1="885" x2="669" y2="924"/><line x1="655" y1="885" x2="655" y2="924"/>
</g>
<g fill="#000"><rect x="538" y="870" width="7" height="4"/><rect x="538" y="932" width="7" height="4"/><rect x="500" y="901" width="7" height="4"/><rect x="570" y="901" width="7" height="4"/><rect x="593" y="878" width="15" height="4"/><rect x="610" y="878" width="18" height="4"/><rect x="616" y="890" width="5" height="5"/><rect x="616" y="913" width="5" height="5"/><rect x="594" y="902" width="4" height="5"/><rect x="639" y="902" width="4" height="5"/><rect x="652" y="893" width="5" height="8"/><rect x="652" y="908" width="5" height="8"/><rect x="664" y="902" width="5" height="5"/></g>

<!-- CORTE F-F -->
<text x="746" y="744" class="t">CORTE F-F / PLANTA</text><line x1="738" y1="746" x2="846" y2="746" stroke="#000"/><rect x="746" y="748" width="22" height="4"/>
<rect x="761" y="764" width="181" height="152" fill="#ddd" stroke="#000"/>
<rect x="761" y="764" width="181" height="152" fill="url(#gridFF)" opacity="0.7"/>
<g fill="none" stroke="#000" stroke-width="0.9">
<rect x="761" y="764" width="181" height="152"/>
<line x1="851" y1="764" x2="851" y2="916"/>
<g stroke-dasharray="2,2"><circle cx="788" cy="790" r="16"/><circle cx="915" cy="790" r="16"/><circle cx="788" cy="888" r="16"/><circle cx="915" cy="888" r="16"/><rect x="776" y="820" width="25" height="39"/><rect x="903" y="820" width="25" height="39"/></g>
<line x1="742" y1="778" x2="761" y2="778"/><line x1="742" y1="812" x2="761" y2="812"/><line x1="742" y1="868" x2="761" y2="868"/><line x1="742" y1="902" x2="761" y2="902"/>
<line x1="744" y1="778" x2="744" y2="902"/>
<line x1="770" y1="933" x2="806" y2="933"/><line x1="820" y1="933" x2="884" y2="933"/><line x1="898" y1="933" x2="933" y2="933"/>
<line x1="770" y1="916" x2="770" y2="936"/><line x1="806" y1="916" x2="806" y2="936"/><line x1="820" y1="916" x2="820" y2="936"/><line x1="884" y1="916" x2="884" y2="936"/><line x1="898" y1="916" x2="898" y2="936"/><line x1="933" y1="916" x2="933" y2="936"/>
</g>
<g fill="#000"><rect x="738" y="785" width="5" height="12"/><rect x="738" y="830" width="5" height="20"/><rect x="738" y="884" width="5" height="12"/><rect x="783" y="929" width="8" height="10"/><rect x="840" y="931" width="20" height="4"/><rect x="907" y="929" width="8" height="10"/></g>

<!-- CORTE E-E -->
<text x="975" y="744" class="t">CORTE E-E / ELEVAÇÃO</text><line x1="967" y1="746" x2="1090" y2="746" stroke="#000"/><rect x="975" y="748" width="22" height="4"/>
<path d="M994 764 H1023 Q1033 764 1033 778 V902 Q1033 916 1023 916 H994 Z" fill="#ddd" stroke="#000"/>
<g fill="none" stroke="#000" stroke-width="0.8">
<rect x="1036" y="763" width="3" height="156"/>
<line x1="1039" y1="765" x2="1100" y2="765"/><line x1="1039" y1="915" x2="1100" y2="915"/>
<line x1="1039" y1="778" x2="1100" y2="778"/><line x1="1039" y1="812" x2="1100" y2="812"/><line x1="1039" y1="868" x2="1100" y2="868"/><line x1="1039" y1="902" x2="1100" y2="902"/>
<line x1="1093" y1="812" x2="1093" y2="868"/>
<path d="M1039 780 Q1055 780 1055 800 Q1055 812 1045 812"/><path d="M1039 870 Q1055 870 1055 885 Q1055 900 1045 902"/>
<g stroke-dasharray="3,2"><line x1="997" y1="780" x2="1040" y2="780"/><line x1="997" y1="803" x2="1040" y2="803"/><line x1="997" y1="877" x2="1040" y2="877"/><line x1="997" y1="900" x2="1040" y2="900"/><line x1="965" y1="822" x2="1036" y2="822"/><line x1="965" y1="832" x2="1036" y2="832"/><line x1="965" y1="842" x2="1036" y2="842"/><line x1="965" y1="852" x2="1036" y2="852"/></g>
<line x1="965" y1="815" x2="994" y2="815"/><line x1="965" y1="862" x2="994" y2="862"/>
<line x1="1012" y1="780" x2="1012" y2="930"/><line x1="1012" y1="930" x2="1050" y2="930"/>
</g>
<g fill="#000"><rect x="1031" y="780" width="2" height="120"/><rect x="1060" y="784" width="5" height="14"/><rect x="1086" y="782" width="5" height="16"/><rect x="1055" y="827" width="5" height="25"/><rect x="1072" y="827" width="5" height="20"/><rect x="1060" y="880" width="5" height="14"/><rect x="1086" y="880" width="5" height="16"/><rect x="1056" y="772" width="4" height="6"/><rect x="1056" y="900" width="4" height="6"/><rect x="1000" y="830" width="3" height="50"/><rect x="1019" y="932" width="35" height="4"/><rect x="1023" y="938" width="28" height="4"/></g>
</svg>
</body></html>
